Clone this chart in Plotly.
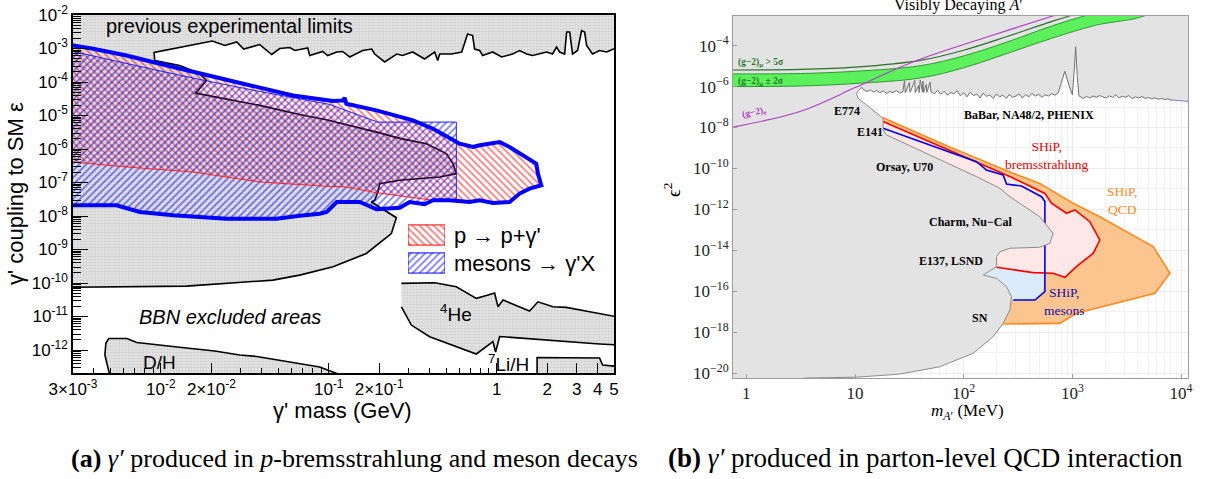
import numpy as np
import plotly.graph_objects as go

W, H = 1206, 479


def lin(v):
    """log10 values -> linear values for the log axes."""
    return np.power(10.0, np.asarray(v, dtype=float)).tolist()


# ====================== panel (a): log10(m / GeV), log10(eps) ======================
# upper edge of the previous experimental limits (left -> right)
prev_top_lgm = [-2.040, -1.693, -1.619, -1.548, -1.506, -1.411, -1.339, -1.292, -1.232, -1.202,
                -1.125, -1.113, -1.036, -1.006, -0.952, -0.917, -0.875, -0.798, -0.744, -0.726,
                -0.667, -0.595, -0.560, -0.500, -0.429, -0.369, -0.351, -0.339, -0.268, -0.208,
                -0.173, -0.143, -0.131, -0.101, -0.083, -0.024, 0.030, 0.095, 0.137, 0.179,
                0.214, 0.298, 0.333, 0.357, 0.375, 0.405, 0.417, 0.435, 0.452, 0.482,
                0.506, 0.524, 0.536, 0.571, 0.613, 0.655, 0.696, 0.720]
prev_top_lge = [-3.119, -2.777, -2.911, -2.806, -3.015, -2.881, -3.179, -3.000, -2.970, -3.060,
                -2.985, -3.209, -3.089, -3.209, -3.104, -3.089, -3.253, -3.060, -3.015, -3.164,
                -3.402, -3.164, -3.209, -3.104, -3.313, -3.104, -3.358, -3.164, -3.164, -3.104,
                -2.568, -2.613, -3.015, -3.060, -3.209, -3.104, -3.253, -3.164, -3.060, -3.164,
                -3.209, -3.104, -3.164, -2.955, -3.104, -3.164, -2.508, -2.508, -3.164, -3.060,
                -2.464, -2.508, -2.911, -3.164, -3.060, -3.104, -3.015, -3.000]
# edge of the excluded region below the top line, down around the tip and back to the left
prev_edge_lgm = [-2.036, -1.887, -1.768, -1.728, -1.792, -1.411, -1.173, -1.014, -0.696, -0.577,
                 -0.418, -0.299, -0.260, -0.240, -0.339, -0.577, -0.696, -0.707, -0.726, -0.746,
                 -0.597, -0.627, -0.776, -0.974, -1.173, -1.332, -1.847, -2.522, -2.600]
prev_edge_lge = [-3.358, -3.507, -3.754, -3.954, -4.332, -4.698, -4.967, -5.125, -5.518, -5.682,
                 -5.840, -6.138, -6.436, -6.734, -6.835, -6.933, -7.032, -7.282, -7.529, -7.580,
                 -8.050, -8.522, -9.117, -9.517, -9.764, -9.913, -10.092, -10.131, -10.131]

# combined sensitivity envelope: upper edge (left -> tip) and lower edge (tip -> left)
env_top_lgm = [-2.600, -2.522, -2.403, -2.204, -2.006, -1.768, -1.510, -1.213, -0.974, -0.915,
               -0.905, -0.895, -0.716, -0.498, -0.379, -0.220, -0.141, -0.101, 0.018, 0.077,
               0.177, 0.236, 0.246, 0.266]
env_top_lge = [-2.880, -2.911, -3.009, -3.209, -3.456, -3.730, -4.052, -4.400, -4.564, -4.549,
               -4.475, -4.648, -4.847, -5.145, -5.393, -5.840, -5.941, -5.890, -5.792, -5.941,
               -6.239, -6.436, -6.734, -7.082]
env_bot_lgm = [0.196, 0.137, 0.077, -0.022, -0.101, -0.161, -0.280, -0.379, -0.429, -0.518,
               -0.577, -0.716, -0.815, -0.952, -1.012, -1.054, -1.173, -1.311, -1.609, -1.927,
               -2.125, -2.264, -2.522, -2.600]
env_bot_lge = [-7.181, -7.330, -7.580, -7.610, -7.529, -7.580, -7.529, -7.529, -7.648, -7.580,
               -7.753, -7.797, -7.580, -7.580, -7.878, -7.932, -7.991, -8.081, -8.081, -7.976,
               -7.878, -7.678, -7.678, -7.678]
# lower edge of the p-bremsstrahlung region (right -> left)
brem_low_lgm = [-0.379, -0.577, -0.716, -0.815, -0.915, -1.014, -1.411, -1.808, -2.204, -2.522, -2.600]
brem_low_lge = [-7.529, -7.395, -7.306, -7.210, -7.127, -7.112, -6.984, -6.686, -6.537, -6.388, -6.360]
# upper edge of the meson-decay region (left -> right), then down at its mass cut
mes_top_lgm = [-2.600, -2.522, -2.105, -1.768, -1.411, -0.994, -0.708, -0.240]
mes_top_lge = [-3.060, -3.089, -3.557, -3.924, -4.281, -4.669, -5.196, -5.196]
mes_cut_lge = -7.550

# BBN excluded areas
dh_lgm = [-2.304, -2.333, -2.327, -2.310, -2.202, -2.143, -1.875, -1.679, -1.530, -1.429, -1.232, -1.054, -0.926]
dh_lge = [-12.75, -12.148, -11.790, -11.656, -11.656, -11.775, -11.924, -12.028, -12.148, -12.192, -12.356, -12.505, -12.75]
he_lgm = [-0.567, -0.369, -0.240, -0.121, -0.061, -0.012, 0.008, 0.038, 0.196, 0.246, 0.335, 0.415,
          0.554, 0.720, 0.720, 0.613, 0.018, -0.006, -0.022, -0.121, -0.399, -0.508, -0.567]
he_lge = [-10.011, -9.993, -10.113, -10.458, -10.375, -10.300, -10.709, -10.509, -10.837, -10.560,
          -10.709, -10.727, -10.858, -11.010, -11.850, -11.820, -11.596, -12.058, -11.751, -12.118,
          -11.602, -11.254, -10.709]
li_lgm = [0.241, 0.241, 0.613, 0.631, 0.720, 0.720]
li_lge = [-12.75, -12.222, -12.237, -12.446, -12.490, -12.75]

# axis ticks of panel (a)
a_xtick_vals = [3e-3, 1e-2, 2e-2, 1e-1, 2e-1, 1, 2, 3, 4, 5]
a_xtick_text = ['3×10<sup>-3</sup>', '10<sup>-2</sup>', '2×10<sup>-2</sup>', '10<sup>-1</sup>',
                '2×10<sup>-1</sup>', '1', '2', '3', '4', '5']
a_ydecades = list(range(-12, -1))

# ====================== panel (b): log10(m / MeV), log10(eps^2) ======================
babar_lgm = [1.059, 1.08, 1.11, 1.14, 1.17, 1.20, 1.23, 1.26, 1.29, 1.32, 1.35, 1.38, 1.41, 1.44,
             1.455, 1.462, 1.47, 1.50, 1.505, 1.51, 1.55, 1.555, 1.56, 1.585, 1.59, 1.60, 1.62,
             1.625, 1.63, 1.655, 1.66, 1.665, 1.69, 1.70, 1.73, 1.76, 1.79, 1.82, 1.85, 1.88,
             1.91, 1.94, 1.97, 2.00, 2.03, 2.06, 2.09, 2.12, 2.15, 2.18, 2.21, 2.24, 2.27, 2.30,
             2.33, 2.36, 2.39, 2.42, 2.45, 2.48, 2.51, 2.54, 2.57, 2.60, 2.63, 2.66, 2.69, 2.72,
             2.75, 2.78, 2.81, 2.84, 2.87, 2.90, 2.93, 2.97, 3.00, 3.02, 3.03, 3.045, 3.06, 3.10,
             3.13, 3.16, 3.19, 3.22, 3.25, 3.28, 3.31, 3.34, 3.37, 3.40, 3.43, 3.46, 3.49, 3.52,
             3.55, 3.58, 3.61, 3.64, 3.67, 3.70, 3.73, 3.76, 3.79, 3.82, 3.85, 3.88, 3.91, 3.93]
babar_lge = [-6.03, -6.15, -6.24, -6.16, -6.27, -6.19, -6.30, -6.21, -6.33, -6.24, -6.29, -6.20, -6.31,
             -6.26, -5.72, -6.30, -6.22, -5.80, -6.28, -6.25, -5.70, -6.30, -6.24, -5.95, -6.29,
             -5.68, -6.27, -5.74, -6.30, -5.90, -6.28, -6.22, -5.78, -6.26, -6.35, -6.18, -6.38,
             -6.22, -6.42, -6.28, -6.35, -6.20, -6.45, -6.30, -6.50, -6.27, -6.44, -6.36, -6.55,
             -6.32, -6.48, -6.40, -6.58, -6.36, -6.50, -6.42, -6.58, -6.38, -6.52, -6.46, -6.36,
             -6.55, -6.40, -6.50, -6.32, -6.46, -6.38, -6.52, -6.40, -6.46, -6.35, -6.42, -6.30,
             -5.80, -5.25, -5.95, -6.40, -5.00, -4.05, -5.50, -6.45, -6.58, -6.48, -6.55, -6.46,
             -6.52, -6.44, -6.50, -6.56, -6.45, -6.53, -6.40, -6.55, -6.47, -6.52, -6.44, -6.58,
             -6.50, -6.55, -6.48, -6.58, -6.53, -6.60, -6.55, -6.62, -6.58, -6.63, -6.60, -6.66, -6.66]
babar_tail_lgm = [3.93, 4.10]
babar_tail_lge = [-6.66, -6.74]

# beam-dump / supernova excluded edge (from the BaBar line downwards)
dump_lgm = [1.059, 1.013, 1.028, 1.105, 1.197, 1.258, 1.258, 1.258, 1.289, 2.118, 2.333, 2.425, 2.700,
            2.777, 2.823, 2.793, 2.700, 2.425, 2.333, 2.302, 2.302, 2.179, 2.302, 2.394, 2.440, 2.425,
            2.363, 2.271, 2.087, 1.780, 1.410, 1.013, 0.552, 0.300]
dump_lge = [-6.03, -6.33, -6.57, -6.90, -7.30, -7.55, -7.88, -8.12, -8.36, -10.40, -10.97, -11.38,
            -12.36, -12.85, -13.17, -13.66, -13.85, -13.90, -14.07, -14.31, -14.80, -15.21, -15.37,
            -15.78, -16.27, -16.92, -17.57, -18.22, -19.03, -19.69, -20.05, -20.20, -20.24, -20.40]

# SHiP sensitivity contours
qcd_lgm = [1.258, 1.903, 2.455, 2.700, 3.007, 3.253, 3.744, 3.898, 3.760, 3.039, 2.885, 2.363]
qcd_lge = [-7.52, -9.02, -10.24, -10.73, -11.70, -12.36, -13.82, -15.12, -16.10, -17.08, -17.57, -17.60]
brem_lgm = [1.258, 1.903, 2.450, 2.747, 2.808, 2.947, 3.023, 3.161, 3.253, 3.191, 3.053, 2.931,
            2.823, 2.639, 2.302]
brem_lge = [-7.71, -9.18, -10.45, -11.22, -11.70, -12.19, -12.03, -12.60, -13.50, -14.15, -14.72,
            -15.32, -15.12, -15.09, -14.83]
mesons_lgm = [1.258, 2.118, 2.210, 2.363, 2.394, 2.532, 2.716, 2.747, 2.747, 2.655, 2.455]
mesons_lge = [-8.04, -9.67, -10.08, -10.32, -10.76, -10.86, -11.38, -11.62, -16.02, -16.43, -16.43]

# (g-2) bands and lines
g2mu_lgm = [-0.20, 0.50, 1.00, 1.60, 2.00, 2.40, 2.82, 3.20, 3.70]
g2mu_lo_lge = [-6.00, -5.97, -5.85, -5.58, -5.08, -4.38, -3.62, -3.02, -2.40]
g2mu_hi_lge = [-5.38, -5.36, -5.25, -4.98, -4.50, -3.82, -3.02, -2.42, -1.80]
g2mu5_lge = [-5.19, -5.16, -5.05, -4.72, -4.22, -3.55, -2.80, -2.20, -1.60]
g2e_lgm = [-0.20, 0.50, 1.00, 1.35, 1.63, 2.20, 2.82, 3.00]
g2e_lge = [-8.06, -7.20, -6.05, -5.20, -4.60, -3.60, -2.55, -2.25]

b_xtick_vals = [1, 10, 100, 1e3, 1e4]
b_xtick_text = ['1', '10', '10<sup>2</sup>', '10<sup>3</sup>', '10<sup>4</sup>']
b_ydecades = list(range(-20, -3, 2))

# ====================== drawing ======================
fig = go.Figure()

GRAY_A = dict(shape='.', fgcolor='#b8b8b8', bgcolor='#e3e3e3', size=3, solidity=0.35)
HATCH_RED = dict(shape='\\', fgcolor='#ff0000', bgcolor='rgba(0,0,0,0)', size=5, solidity=0.35)
HATCH_BLUE = dict(shape='/', fgcolor='#0000ff', bgcolor='rgba(0,0,0,0)', size=5, solidity=0.35)


def area(lgx, lgy, xa, ya, **kw):
    fig.add_trace(go.Scatter(x=lin(lgx), y=lin(lgy), xaxis=xa, yaxis=ya, mode='lines',
                             fill='toself', hoverinfo='skip', showlegend=False, **kw))


def curve(lgx, lgy, xa, ya, color, width, shape='linear'):
    fig.add_trace(go.Scatter(x=lin(lgx), y=lin(lgy), xaxis=xa, yaxis=ya, mode='lines',
                             line=dict(color=color, width=width, shape=shape),
                             hoverinfo='skip', showlegend=False))


# ---- panel (a) ----
excl_x = [-2.6, 0.75] + prev_top_lgm[::-1] + prev_edge_lgm
excl_y = [-1.8, -1.8] + prev_top_lge[::-1] + prev_edge_lge
area(excl_x, excl_y, 'x', 'y', line=dict(width=0), fillpattern=GRAY_A)
curve(prev_top_lgm[::-1] + prev_edge_lgm, prev_top_lge[::-1] + prev_edge_lge, 'x', 'y', 'black', 1.6)

brem_x = env_top_lgm + env_bot_lgm[:8] + brem_low_lgm[1:]
brem_y = env_top_lge + env_bot_lge[:8] + brem_low_lge[1:]
area(brem_x, brem_y, 'x', 'y', line=dict(width=0), fillpattern=HATCH_RED)

mes_x = mes_top_lgm + [mes_top_lgm[-1]] + env_bot_lgm[6:]
mes_y = mes_top_lge + [mes_cut_lge] + env_bot_lge[6:]
area(mes_x, mes_y, 'x', 'y', line=dict(width=0), fillpattern=HATCH_BLUE)

curve(brem_low_lgm, brem_low_lge, 'x', 'y', '#ff2020', 1)
curve(mes_top_lgm + [mes_top_lgm[-1]], mes_top_lge + [mes_cut_lge], 'x', 'y', '#2020ff', 1)
curve(env_top_lgm + env_bot_lgm, env_top_lge + env_bot_lge, 'x', 'y', '#0000ff', 4)

for bx, by in ((dh_lgm, dh_lge), (he_lgm, he_lge), (li_lgm, li_lge)):
    area(bx, by, 'x', 'y', line=dict(color='black', width=1.6), fillpattern=GRAY_A)

# legend swatches (own small axes)
key_rows = [("p → p+γ'", HATCH_RED, '#ff0000'), ("mesons → γ'X", HATCH_BLUE, '#0000ff')]
for k, (lab, patt, col) in enumerate(key_rows):
    y0, y1 = (1 - k) + 0.14, (1 - k) + 0.86
    fig.add_trace(go.Scatter(x=[0, 1, 1, 0, 0], y=[y0, y0, y1, y1, y0], xaxis='x3', yaxis='y3',
                             mode='lines', fill='toself', line=dict(color=col, width=1),
                             fillpattern=patt, hoverinfo='skip', showlegend=False))

# ---- panel (b) ----
area(qcd_lgm + [2.1, 1.6, 1.15], qcd_lge + [-17.6, -12.0, -7.52], 'x2', 'y2',
     line=dict(width=0), fillcolor='#fcc48f')
area(mesons_lgm + [2.2, 1.7, 1.15], mesons_lge + [-16.43, -12.0, -8.04], 'x2', 'y2',
     line=dict(width=0), fillcolor='#dcebfb')
area(brem_lgm + [2.1, 1.6, 1.15], brem_lge + [-14.83, -11.0, -7.71], 'x2', 'y2',
     line=dict(width=0), fillcolor='#fde7e7')
curve(qcd_lgm, qcd_lge, 'x2', 'y2', '#ff8a1c', 1.6)
curve(brem_lgm, brem_lge, 'x2', 'y2', '#ff0000', 1.6)
curve(mesons_lgm, mesons_lge, 'x2', 'y2', '#0000ee', 1.6)

gray_x = [-0.3, 4.2, 4.2] + babar_lgm[::-1] + dump_lgm[1:] + [-0.3]
gray_y = [-1.5, -1.5, -6.74] + babar_lge[::-1] + dump_lge[1:] + [-20.4]
area(gray_x, gray_y, 'x2', 'y2', line=dict(width=0), fillcolor='#e3e3e3')
curve(dump_lgm, dump_lge, 'x2', 'y2', '#8c8c8c', 1)
curve(babar_lgm, babar_lge, 'x2', 'y2', '#707070', 1)
curve(babar_tail_lgm, babar_tail_lge, 'x2', 'y2', '#7878d0', 1)

area(g2mu_lgm + g2mu_lgm[::-1], g2mu_lo_lge + g2mu_hi_lge[::-1], 'x2', 'y2',
     line=dict(color='#2f9a2f', width=1, shape='spline'), fillcolor='#5cf05c')
curve(g2mu_lgm, g2mu5_lge, 'x2', 'y2', '#2a6e2a', 1.1, 'spline')
curve(g2e_lgm, g2e_lge, 'x2', 'y2', '#b03cc8', 1.1, 'spline')

# ---- axes ----
SANS = 'Liberation Sans'
SERIF = 'Liberation Serif'

a_xminor = [k * 10.0 ** n for n in range(-3, 1) for k in range(1, 10)
            if 3e-3 <= k * 10.0 ** n <= 5 and not any(abs(k * 10.0 ** n - v) < 1e-12 for v in a_xtick_vals)]
a_yminor = [k * 10.0 ** n for n in range(-13, -2) for k in range(2, 10)]
b_xminor = [k * 10.0 ** n for n in range(-1, 5) for k in range(2, 10)]
b_yminor = [10.0 ** n for n in range(-21, -2, 2)]

axis_a = dict(type='log', showline=True, linecolor='black', linewidth=1.5, mirror=True,
              ticks='inside', tickcolor='black', tickwidth=1, showgrid=False, zeroline=False,
              tickfont=dict(family=SANS, size=17, color='black'), tickmode='array')
axis_b = dict(type='log', showline=True, linecolor='#9c9c9c', linewidth=1, mirror=True,
              ticks='inside', ticklen=4, tickcolor='#9c9c9c', showgrid=True, gridcolor='#ececec',
              gridwidth=1, zeroline=False, tickfont=dict(family=SERIF, size=17, color='#222222'),
              tickmode='array')

fig.update_layout(
    width=W, height=H, margin=dict(l=0, r=0, t=0, b=0, autoexpand=False),
    paper_bgcolor='white', plot_bgcolor='white', showlegend=False,
    xaxis=dict(axis_a, domain=[73 / W, 614 / W], range=[np.log10(3e-3), np.log10(5)], anchor='y',
               tickvals=a_xtick_vals, ticktext=a_xtick_text, ticklen=10,
               minor=dict(tickvals=a_xminor, ticks='inside', ticklen=5, tickcolor='black', showgrid=False)),
    yaxis=dict(axis_a, domain=[1 - 373 / H, 1 - 15 / H], range=[-12.685, -2.0], anchor='x',
               tickvals=[10.0 ** d for d in a_ydecades],
               ticktext=['10<sup>%d</sup>' % d for d in a_ydecades], ticklen=15,
               minor=dict(tickvals=a_yminor, ticks='inside', ticklen=8, tickcolor='black', showgrid=False)),
    xaxis2=dict(axis_b, domain=[733 / W, 1188 / W], range=[-0.123, 4.064], anchor='y2',
                tickvals=b_xtick_vals, ticktext=b_xtick_text,
                minor=dict(tickvals=b_xminor, showgrid=True, gridcolor='#f3f3f3', ticks='')),
    yaxis2=dict(axis_b, domain=[1 - 378 / H, 1 - 16 / H], range=[-20.24, -2.55], anchor='x2',
                tickvals=[10.0 ** d for d in b_ydecades],
                ticktext=['10<sup>−%d</sup>' % -d for d in b_ydecades],
                minor=dict(tickvals=b_yminor, showgrid=True, gridcolor='#f3f3f3', ticks='')),
    xaxis3=dict(domain=[408 / W, 445 / W], range=[0, 1], visible=False, anchor='y3', fixedrange=True),
    yaxis3=dict(domain=[1 - 277 / H, 1 - 221 / H], range=[0, 2], visible=False, anchor='x3', fixedrange=True),
)

# ---- text ----
ann = []


def text(s, x, y, ref=('x', 'y'), size=12, family=SANS, color='black', **kw):
    opts = dict(xanchor='center', yanchor='middle')
    opts.update(kw)
    ann.append(dict(text=s, x=x, y=y, xref=ref[0], yref=ref[1], showarrow=False,
                    font=dict(family=family, size=size, color=color), **opts))


# panel (a)
text('previous experimental limits', -1.589, -2.315, size=20)
text('<i>BBN excluded areas</i>', -1.589, -11.015, size=20)
text('D/H', -2.006, -12.37, size=19)
text('<sup>4</sup>He', -0.244, -10.90, size=19)
text('<sup>7</sup>Li/H', 0.071, -12.39, size=19)
for k, (lab, patt, col) in enumerate(key_rows):
    text(lab, 1, (1 - k) + 0.5, ref=('x3', 'y3'), size=22, xanchor='left', xshift=7)
text("γ' coupling to SM ε", 15 / W, 1 - 194 / H, ref=('paper', 'paper'), size=22, textangle=-90)
text("γ' mass (GeV)", 342 / W, 1 - 410 / H, ref=('paper', 'paper'), size=22)

# panel (b)
text('Visibly Decaying <i>A</i>′', 958 / W, 1 - 5 / H, ref=('paper', 'paper'), size=16, family=SERIF)
text('<i>m</i><sub><i>A</i>′</sub> (MeV)', 967 / W, 1 - 412 / H, ref=('paper', 'paper'), size=17, family=SERIF)
text('ϵ<sup>2</sup>', 672 / W, 1 - 190 / H, ref=('paper', 'paper'), size=19, family=SERIF, textangle=-90)

bold = dict(ref=('x2', 'y2'), size=12, family=SERIF)
text('<b>E774</b>', 0.924, -7.19, **bold)
text('<b>E141</b>', 1.136, -8.22, **bold)
text('<b>Orsay, U70</b>', 1.458, -9.93, **bold)
text('<b>Charm, Nu−Cal</b>', 2.065, -12.62, **bold)
text('<b>E137, LSND</b>', 1.881, -14.52, **bold)
text('<b>SN</b>', 2.148, -17.31, **bold)
text('<b>BaBar, NA48/2, PHENIX</b>', 2.600, -7.39, **bold)
text('SHiP,<br>bremsstrahlung', 2.765, -9.35, ref=('x2', 'y2'), size=13.5, family=SERIF, color='#ee0000')
text('SHiP,<br>QCD', 3.456, -11.55, ref=('x2', 'y2'), size=13.5, family=SERIF, color='#ff8a1c')
text('SHiP,<br>mesons', 2.931, -16.49, ref=('x2', 'y2'), size=13.5, family=SERIF, color='#1010b0')
text('<b>(g−2)<sub>μ</sub> > 5σ</b>', -0.095, -4.83, ref=('x2', 'y2'), size=9.5, family=SERIF,
     color='#2a7a2a', xanchor='left')
text('<b>(g−2)<sub>μ</sub> ± 2σ</b>', -0.095, -5.73, ref=('x2', 'y2'), size=9.5, family=SERIF,
     color='#2a7a2a', xanchor='left')
text('<b>(g−2)<sub>e</sub></b>', -0.07, -7.25, ref=('x2', 'y2'), size=9.5, family=SERIF,
     color='#b03cc8', xanchor='left', textangle=-12)

# captions
text('<b>(a)</b> <i>γ′</i> produced in <i>p</i>-bremsstrahlung and meson decays', 354 / W, 1 - 458 / H,
     ref=('paper', 'paper'), size=26, family=SERIF)
text('<b>(b)</b> <i>γ′</i> produced in parton-level QCD interaction', 925 / W, 1 - 458 / H,
     ref=('paper', 'paper'), size=27, family=SERIF)

fig.update_layout(annotations=ann)
fig.write_html('out.html')
